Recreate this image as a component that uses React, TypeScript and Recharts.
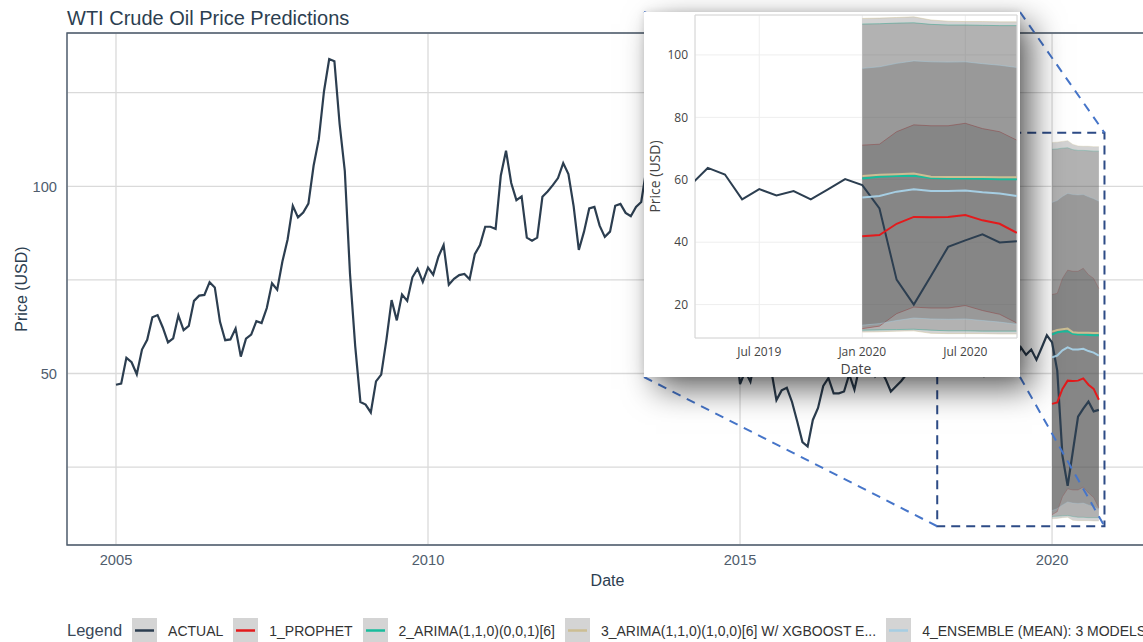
import React from 'react';
import {
  ComposedChart,
  Line,
  Area,
  XAxis,
  YAxis,
  CartesianGrid,
  ReferenceArea,
  Label,
} from 'recharts';

// ---- monthly WTI prices (USD / bbl), one array per year ----
const wti2005 = [47.0, 47.3, 54.2, 53.0, 49.8, 56.4, 59.0, 65.0, 65.6, 62.3, 58.3, 59.4];
const wti2006 = [65.5, 61.6, 62.7, 69.4, 70.8, 71.0, 74.4, 73.0, 63.8, 58.9, 59.1, 62.0];
const wti2007 = [54.5, 59.3, 60.4, 64.0, 63.5, 67.5, 74.1, 72.4, 79.9, 85.8, 94.8, 91.7];
const wti2008 = [93.0, 95.4, 105.5, 112.6, 125.4, 134.0, 133.4, 116.7, 104.1, 76.6, 57.3, 42.4];
const wti2009 = [41.7, 39.6, 47.9, 49.7, 59.0, 69.6, 64.2, 71.1, 69.4, 75.7, 78.0, 74.5];
const wti2010 = [78.3, 76.4, 81.2, 84.3, 73.7, 75.3, 76.3, 76.6, 75.2, 81.9, 84.3, 89.2];
const wti2011 = [89.2, 88.6, 102.9, 109.5, 100.9, 96.3, 97.3, 86.3, 85.5, 86.3, 97.2, 98.6];
const wti2012 = [100.3, 102.2, 106.2, 103.3, 94.7, 83.0, 87.9, 94.1, 94.5, 89.5, 86.5, 87.9];
const wti2013 = [94.8, 95.3, 92.9, 92.0, 94.5, 95.8, 104.7, 106.6, 106.3, 100.5, 93.9, 97.6];
const wti2014 = [94.6, 100.8, 100.8, 102.1, 102.2, 105.8, 103.6, 96.5, 93.2, 84.4, 75.8, 59.3];
const wti2015 = [47.2, 50.6, 47.8, 54.5, 59.3, 59.8, 50.9, 42.9, 45.5, 46.2, 42.4, 37.2];
const wti2016 = [31.7, 30.5, 37.6, 40.8, 46.7, 48.8, 44.7, 44.7, 45.2, 49.8, 45.7, 52.0];
const wti2017 = [52.5, 53.5, 49.3, 51.1, 48.5, 45.2, 46.6, 48.0, 49.8, 51.6, 56.6, 57.9];
const wti2018 = [63.7, 62.2, 62.7, 66.3, 70.0, 67.9, 71.0, 68.1, 70.2, 70.8, 57.0, 49.5];
const wti2019 = [51.4, 55.0, 58.3, 63.8, 61.7, 53.7, 57.0, 55.0, 56.4, 53.7, 56.9, 60.2];
const wti2020 = [58.3, 50.8, 28.0, 20.0, 29.2, 38.5, 40.6, 42.5, 39.9, 40.3];

const actualYears = [2005, 2006, 2007, 2008, 2009, 2010, 2011, 2012, 2013, 2014, 2015, 2016, 2017, 2018, 2019, 2020];
const actualByYear = [
  wti2005, wti2006, wti2007, wti2008, wti2009, wti2010, wti2011, wti2012,
  wti2013, wti2014, wti2015, wti2016, wti2017, wti2018, wti2019, wti2020,
];

// ---- forecasts Jan..Oct 2020 with prediction intervals ----
const forecastYear = 2020;
const prophet = [41.9, 42.3, 45.9, 48.1, 48.0, 48.1, 48.7, 47.0, 45.9, 43.0];
const prophetLo = [12.3, 13.1, 17.1, 19.2, 18.9, 18.9, 19.7, 18.1, 16.9, 14.1];
const prophetHi = [71.1, 71.4, 75.4, 77.6, 77.3, 77.3, 78.1, 76.4, 75.4, 72.7];

const arima = [60.4, 61.0, 61.2, 61.3, 60.6, 60.4, 60.4, 60.3, 60.2, 60.2];
const arimaLo = [11.8, 11.9, 12.0, 12.1, 11.8, 11.6, 11.6, 11.5, 11.5, 11.5];
const arimaHi = [109.9, 110.0, 110.2, 110.3, 109.8, 109.6, 109.6, 109.5, 109.4, 109.4];

const arimaXgb = [61.2, 61.6, 61.8, 62.0, 61.0, 60.9, 60.9, 60.9, 60.8, 60.8];
const arimaXgbLo = [11.2, 11.3, 11.5, 11.6, 10.8, 10.7, 10.7, 10.7, 10.6, 10.6];
const arimaXgbHi = [111.7, 111.8, 112.0, 112.2, 111.2, 110.8, 110.7, 110.7, 110.6, 110.6];

const ensemble = [54.3, 54.8, 56.2, 57.0, 56.4, 56.4, 56.6, 56.0, 55.6, 54.8];
const ensembleLo = [13.4, 13.9, 14.9, 15.7, 15.4, 15.3, 15.4, 14.9, 14.4, 13.7];
const ensembleHi = [95.7, 96.2, 97.3, 98.1, 97.8, 97.7, 97.8, 97.2, 96.7, 96.0];

// ---- labels ----
const legendNames = [
  'ACTUAL',
  '1_PROPHET',
  '2_ARIMA(1,1,0)(0,0,1)[6]',
  '3_ARIMA(1,1,0)(1,0,0)[6] W/ XGBOOST E...',
  '4_ENSEMBLE (MEAN): 3 MODELS',
];
const seriesColors = ['#2c3e50', '#e31a1c', '#18bc9c', '#ccbe93', '#a6cee3'];

const mainXTicks = [2005, 2010, 2015, 2020];
const mainYTicks = [25, 50, 75, 100, 125];
const mainYTickLabels = ['', '50', '', '100', ''];
const insetXTicks = [2019.5, 2020, 2020.5];
const insetXTickLabels = ['Jul 2019', 'Jan 2020', 'Jul 2020'];
const insetYTicks = [20, 40, 60, 80, 100];

// ---- rows for the library ----
const actualRows = actualYears.flatMap((yr, yi) =>
  actualByYear[yi].map((price, m) => ({ t: yr + m / 12, price }))
);

const forecastRows = prophet.map((_, m) => ({
  t: forecastYear + m / 12,
  prophet: prophet[m],
  prophetLo: prophetLo[m],
  prophetHi: prophetHi[m],
  arima: arima[m],
  arimaLo: arimaLo[m],
  arimaHi: arimaHi[m],
  arimaXgb: arimaXgb[m],
  arimaXgbLo: arimaXgbLo[m],
  arimaXgbHi: arimaXgbHi[m],
  ensemble: ensemble[m],
  ensembleLo: ensembleLo[m],
  ensembleHi: ensembleHi[m],
}));

const models = [
  { key: 'prophet', color: seriesColors[1] },
  { key: 'arima', color: seriesColors[2] },
  { key: 'arimaXgb', color: seriesColors[3] },
  { key: 'ensemble', color: seriesColors[4] },
];

// ---- layout ----
const W = 1143;
const H = 642;
const MAIN_X: [number, number] = [2004.215, 2021.5375];
const MAIN_Y: [number, number] = [4.2, 140.95];
const PLOT = { left: 67, top: 33, right: 1148, bottom: 545 };
const INSET_X: [number, number] = [2019.188, 2020.751];
const INSET_Y: [number, number] = [9.3, 112.8];
const INSET_BOX = { left: 644, top: 12, width: 376, height: 365 };
// callout region on the main chart (date, price)
const ZOOM_T: [number, number] = [2018.16, 2020.84];
const ZOOM_V: [number, number] = [9.2, 114.3];

const NAVY = '#2c3e50';
const TICK = '#4f5d6d';

const px = (t: number) =>
  PLOT.left + ((t - MAIN_X[0]) / (MAIN_X[1] - MAIN_X[0])) * (PLOT.right - PLOT.left);
const py = (v: number) =>
  PLOT.top + ((MAIN_Y[1] - v) / (MAIN_Y[1] - MAIN_Y[0])) * (PLOT.bottom - PLOT.top);

function renderBands(strokeW: number) {
  return models.map((m) => (
    <Area
      key={`band-${m.key}`}
      data={forecastRows}
      dataKey={(r: any) => [r[`${m.key}Lo`], r[`${m.key}Hi`]]}
      type="linear"
      fill="#4e4e4e"
      fillOpacity={0.25}
      stroke={m.color}
      strokeOpacity={0.45}
      strokeWidth={strokeW}
      dot={false}
      activeDot={false}
      isAnimationActive={false}
    />
  ));
}

function renderForecastLines(w: number) {
  return models.map((m) => (
    <Line
      key={`line-${m.key}`}
      data={forecastRows}
      dataKey={m.key}
      type="linear"
      stroke={m.color}
      strokeWidth={w}
      dot={false}
      activeDot={false}
      isAnimationActive={false}
    />
  ));
}

function MainChart() {
  return (
    <ComposedChart width={1151} height={600} margin={{ top: 33, right: 3, bottom: 7, left: 0 }}>
      <CartesianGrid stroke="#dadada" strokeWidth={1.3} />
      <XAxis
        type="number"
        dataKey="t"
        domain={MAIN_X}
        ticks={mainXTicks}
        allowDataOverflow
        axisLine={false}
        tickLine={false}
        tickSize={6}
        tickMargin={4}
        height={48}
        tick={{ fill: TICK, fontSize: 14.67 }}
        tickFormatter={(v: number) => String(Math.round(v))}
      >
        <Label value="Date" position="insideBottom" offset={7} fill={NAVY} fontSize={16} />
      </XAxis>
      <YAxis
        type="number"
        domain={MAIN_Y}
        ticks={mainYTicks}
        allowDataOverflow
        width={67}
        axisLine={false}
        tickLine={false}
        tickSize={6}
        tickMargin={4}
        tick={{ fill: TICK, fontSize: 14.67 }}
        tickFormatter={(v: number) => mainYTickLabels[mainYTicks.indexOf(v)] ?? ''}
      >
        <Label
          value="Price (USD)"
          angle={-90}
          position="insideLeft"
          offset={21}
          fill={NAVY}
          fontSize={16}
          style={{ textAnchor: 'middle' }}
        />
      </YAxis>
      {renderBands(0.6)}
      <Line
        data={actualRows}
        dataKey="price"
        type="linear"
        stroke={seriesColors[0]}
        strokeWidth={2.2}
        dot={false}
        activeDot={false}
        isAnimationActive={false}
      />
      {renderForecastLines(2)}
      <ReferenceArea
        x1={MAIN_X[0]}
        x2={MAIN_X[1]}
        y1={MAIN_Y[0]}
        y2={MAIN_Y[1]}
        fill="none"
        stroke="#4b5a6b"
        strokeWidth={1.4}
        ifOverflow="visible"
      />
    </ComposedChart>
  );
}

function InsetChart() {
  return (
    <ComposedChart
      width={INSET_BOX.width}
      height={INSET_BOX.height}
      margin={{ top: 3, right: 3, bottom: 0, left: 0 }}
      style={{ fontFamily: '"Open Sans", sans-serif' }}
    >
      <CartesianGrid stroke="#eeeeee" strokeWidth={1} />
      <XAxis
        type="number"
        dataKey="t"
        domain={INSET_X}
        ticks={insetXTicks}
        allowDataOverflow
        axisLine={false}
        tickLine={false}
        tickSize={0}
        tickMargin={9}
        height={39}
        tick={{ fill: '#444', fontSize: 12 }}
        tickFormatter={(v: number) => insetXTickLabels[insetXTicks.indexOf(v)] ?? ''}
      >
        <Label value="Date" position="insideBottom" offset={3.5} fill="#444" fontSize={14} />
      </XAxis>
      <YAxis
        type="number"
        domain={INSET_Y}
        ticks={insetYTicks}
        allowDataOverflow
        width={51}
        axisLine={false}
        tickLine={false}
        tickSize={0}
        tickMargin={7}
        tick={{ fill: '#444', fontSize: 12 }}
      >
        <Label
          value="Price (USD)"
          angle={-90}
          position="insideLeft"
          offset={11}
          fill="#444"
          fontSize={14}
          style={{ textAnchor: 'middle' }}
        />
      </YAxis>
      {renderBands(1)}
      <Line
        data={actualRows}
        dataKey="price"
        type="linear"
        stroke={seriesColors[0]}
        strokeWidth={2}
        dot={false}
        activeDot={false}
        isAnimationActive={false}
      />
      {renderForecastLines(2)}
      <ReferenceArea
        x1={INSET_X[0]}
        x2={INSET_X[1]}
        y1={INSET_Y[0]}
        y2={INSET_Y[1]}
        fill="none"
        stroke="#d6d6d6"
        strokeWidth={1}
        ifOverflow="visible"
      />
    </ComposedChart>
  );
}

function Callout() {
  const rx0 = px(ZOOM_T[0]);
  const rx1 = px(ZOOM_T[1]);
  const ry0 = py(ZOOM_V[1]);
  const ry1 = py(ZOOM_V[0]);
  const ix0 = INSET_BOX.left;
  const ix1 = INSET_BOX.left + INSET_BOX.width;
  const iy0 = INSET_BOX.top;
  const iy1 = INSET_BOX.top + INSET_BOX.height;
  const links = [
    [ix0, iy0, rx0, ry0],
    [ix1, iy0, rx1, ry0],
    [ix0, iy1, rx0, ry1],
    [ix1, iy1, rx1, ry1],
  ];
  return (
    <svg width={W} height={H} style={{ position: 'absolute', left: 0, top: 0, pointerEvents: 'none' }}>
      <rect
        x={rx0}
        y={ry0}
        width={rx1 - rx0}
        height={ry1 - ry0}
        fill="none"
        stroke="#2d4b86"
        strokeWidth={2}
        strokeDasharray="9 6"
      />
      {links.map(([a, b, c, d], i) => (
        <line key={i} x1={a} y1={b} x2={c} y2={d} stroke="#4675c9" strokeWidth={2} strokeDasharray="9 7" />
      ))}
    </svg>
  );
}

function LegendRow() {
  return (
    <div
      style={{
        position: 'absolute',
        left: 67,
        top: 618,
        height: 25,
        display: 'flex',
        alignItems: 'center',
        whiteSpace: 'nowrap',
      }}
    >
      <span style={{ fontSize: 16.5, color: '#3a4858', marginRight: 10 }}>Legend</span>
      {legendNames.map((name, i) => (
        <span key={name} style={{ display: 'flex', alignItems: 'center', marginRight: 10 }}>
          <svg width={25} height={25} style={{ display: 'block' }}>
            <rect x={0} y={0} width={25} height={25} fill="#d4d4d4" />
            <line x1={3} y1={12.5} x2={22} y2={12.5} stroke={seriesColors[i]} strokeWidth={2.5} />
          </svg>
          <span style={{ fontSize: 14, color: '#333', marginLeft: 11 }}>{name}</span>
        </span>
      ))}
    </div>
  );
}

export default function App() {
  return (
    <div
      style={{
        position: 'absolute',
        left: 0,
        top: 0,
        width: W,
        height: H,
        overflow: 'hidden',
        background: '#fff',
        fontFamily: '"Liberation Sans", Arial, sans-serif',
      }}
    >
      <div style={{ position: 'absolute', left: 0, top: 0 }}>
        <MainChart />
      </div>
      <div
        style={{
          position: 'absolute',
          left: 67,
          top: 7,
          fontSize: 20,
          color: NAVY,
          lineHeight: 'normal',
          whiteSpace: 'nowrap',
        }}
      >
        WTI Crude Oil Price Predictions
      </div>
      <Callout />
      <div
        style={{
          position: 'absolute',
          left: INSET_BOX.left,
          top: INSET_BOX.top,
          width: INSET_BOX.width,
          height: INSET_BOX.height,
          background: '#fff',
          boxShadow: '12px 12px 30px rgba(0,0,0,0.6), 0 0 8px rgba(0,0,0,0.12)',
        }}
      >
        <InsetChart />
      </div>
      <LegendRow />
    </div>
  );
}
